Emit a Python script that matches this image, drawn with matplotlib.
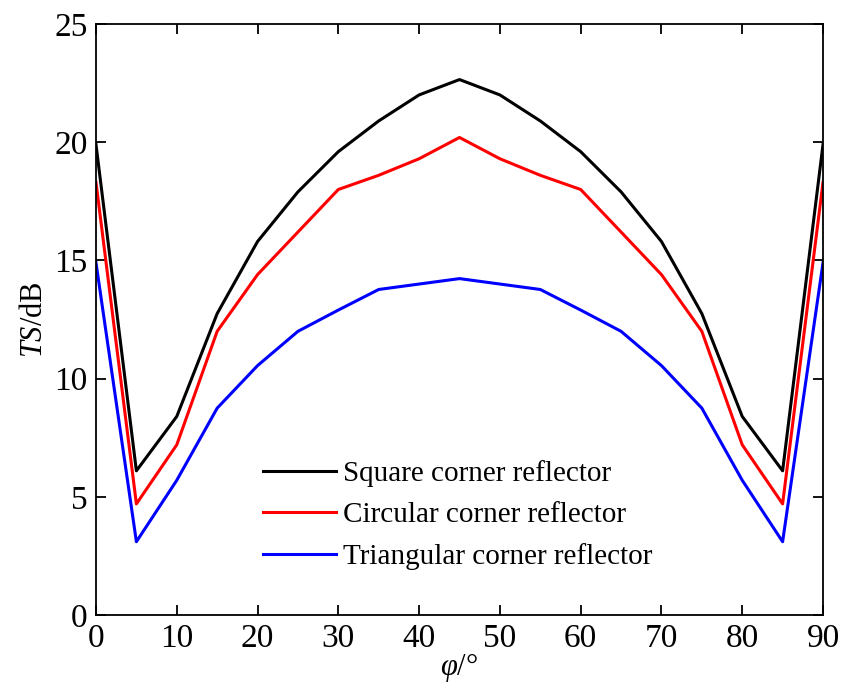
import matplotlib.pyplot as plt

plt.rcParams['font.family'] = 'Liberation Serif'
plt.rcParams['mathtext.fontset'] = 'custom'
plt.rcParams['mathtext.rm'] = 'Liberation Serif'
plt.rcParams['mathtext.it'] = 'Liberation Serif:italic'

angle = [0, 5, 10, 15, 20, 25, 30, 35, 40, 45, 50, 55, 60, 65, 70, 75, 80, 85, 90]
square = [19.9, 6.1, 8.4, 12.75, 15.8, 17.9, 19.6, 20.9, 22.0, 22.65,
          22.0, 20.9, 19.6, 17.9, 15.8, 12.75, 8.4, 6.1, 19.9]
circular = [18.3, 4.7, 7.2, 12.0, 14.4, 16.2, 18.0, 18.6, 19.3, 20.2,
            19.3, 18.6, 18.0, 16.2, 14.4, 12.0, 7.2, 4.7, 18.3]
triangular = [14.9, 3.1, 5.7, 8.75, 10.55, 12.0, 12.9, 13.77, 14.0, 14.23,
              14.0, 13.77, 12.9, 12.0, 10.55, 8.75, 5.7, 3.1, 14.9]

fig = plt.figure(figsize=(8.42, 6.88), dpi=100)
ax = fig.add_axes([96 / 842, 1 - 615 / 688, (823 - 96) / 842, (615 - 24) / 688])

ax.plot(angle, square, color='black', lw=2.2, label='Square corner reflector')
ax.plot(angle, circular, color='red', lw=2.2, label='Circular corner reflector')
ax.plot(angle, triangular, color='blue', lw=2.2, label='Triangular corner reflector')

ax.set_xlim(0, 90)
ax.set_ylim(0, 25)
ax.set_xticks(range(0, 91, 10))
ax.set_yticks(range(0, 26, 5))
ax.tick_params(direction='in', top=True, right=True, labelsize=24, length=7, width=1.3, pad=6)
for s in ax.spines.values():
    s.set_linewidth(1.3)

ax.set_ylabel('$\\it{TS}$/dB', fontsize=22, labelpad=4)
ax.set_xlabel('$\\varphi$/°', fontsize=22, labelpad=-2)

ax.legend(loc='lower left', bbox_to_anchor=(0.194, 0.032), frameon=False, fontsize=21,
          handlelength=2.5, handletextpad=0.25, labelspacing=0.5)

fig.savefig('out.png', dpi=100)
